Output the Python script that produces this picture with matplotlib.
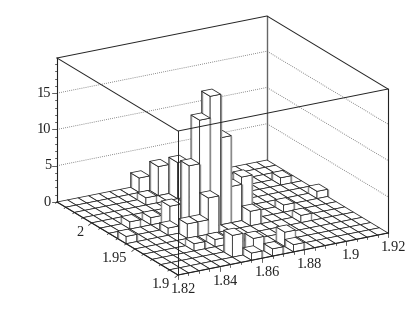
import matplotlib
matplotlib.use('Agg')
import matplotlib.pyplot as plt
from matplotlib.collections import PolyCollection

plt.rcParams['font.family'] = ['Liberation Serif', 'DejaVu Serif']

# counts per bin, rows = y bins (1.90 -> 2.04), columns = x bins (1.82 -> 1.92)
counts = [
    [0, 0, 0, 0, 0, 0, 0, 1, 0, 1, 0, 1, 0, 0, 0, 0, 0, 0, 0, 0],
    [0, 0, 0, 0, 0, 0, 3, 0, 2, 0, 0, 2, 0, 0, 0, 0, 0, 0, 0, 0],
    [0, 0, 0, 0, 0, 0, 0, 0, 0, 0, 0, 0, 0, 0, 0, 0, 0, 0, 0, 0],
    [0, 0, 0, 0, 1, 0, 1, 0, 0, 0, 0, 0, 0, 0, 0, 0, 0, 0, 0, 0],
    [0, 0, 0, 0, 0, 0, 0, 0, 0, 0, 0, 0, 0, 0, 0, 1, 0, 0, 0, 0],
    [0, 0, 0, 0, 0, 2, 2, 5, 0, 0, 0, 2, 0, 0, 0, 0, 0, 0, 0, 0],
    [1, 0, 0, 0, 1, 0, 9, 15, 18, 12, 5, 6, 0, 0, 0, 1, 0, 0, 0, 0],
    [0, 0, 0, 0, 0, 3, 0, 0, 0, 0, 0, 0, 0, 0, 0, 0, 0, 0, 0, 1],
    [0, 0, 1, 0, 1, 0, 0, 0, 0, 0, 0, 0, 0, 0, 0, 0, 0, 0, 0, 0],
    [0, 0, 0, 0, 0, 0, 0, 0, 0, 0, 0, 0, 0, 0, 0, 0, 0, 0, 0, 0],
    [0, 0, 0, 0, 0, 0, 0, 0, 0, 0, 0, 0, 0, 0, 0, 0, 0, 0, 1, 0],
    [0, 0, 0, 0, 0, 0, 1, 0, 0, 5, 0, 0, 0, 0, 0, 0, 0, 0, 0, 0],
    [0, 0, 0, 0, 0, 0, 0, 0, 4, 0, 0, 0, 0, 0, 0, 0, 0, 0, 0, 0],
    [0, 0, 0, 0, 0, 0, 0, 2, 0, 0, 0, 0, 0, 0, 0, 0, 0, 0, 0, 0],
]
x_ticks = [1.82, 1.84, 1.86, 1.88, 1.9, 1.92]
x_labels = ['1.82', '1.84', '1.86', '1.88', '1.9', '1.92']
y_ticks = [1.9, 1.95, 2.0]
y_labels = ['1.9', '1.95', '2']
z_ticks = [0, 5, 10, 15]
z_labels = ['0', '5', '10', '15']

X_MIN, X_MAX, Y_MIN, Y_MAX = 1.82, 1.92, 1.90, 2.04
Z_MAX = 19.85
DX, DY = 0.005, 0.01

# oblique box corners in figure pixels
FRONT = (178, 275)
RIGHT = (388, 233)
LEFT = (57, 202)
BOX_H = 144


def project(x, y, z):
    u = (x - X_MIN) / (X_MAX - X_MIN)
    v = (y - Y_MIN) / (Y_MAX - Y_MIN)
    px = FRONT[0] + u * (RIGHT[0] - FRONT[0]) + v * (LEFT[0] - FRONT[0])
    py = FRONT[1] + u * (RIGHT[1] - FRONT[1]) + v * (LEFT[1] - FRONT[1])
    return px, py - z / Z_MAX * BOX_H


fig = plt.figure(figsize=(4.09, 3.27), dpi=100)
ax = fig.add_axes([0, 0, 1, 1])
ax.set_xlim(0, 409)
ax.set_ylim(327, 0)
ax.axis('off')

LINE = '#222222'
SIDE = '#8a8a8a'
TEXT = '#222222'

# back walls with dotted levels
for z in z_ticks[1:]:
    pts = [project(X_MIN, Y_MAX, z), project(X_MAX, Y_MAX, z), project(X_MAX, Y_MIN, z)]
    ax.plot(*zip(*pts), color='#666666', lw=0.6, ls=(0, (1, 1.5)), zorder=1)
back_pts = [project(X_MAX, Y_MAX, 0), project(X_MAX, Y_MAX, Z_MAX)]
ax.plot(*zip(*back_pts), color='#666666', lw=1.0, zorder=1)
ax.plot(*zip(project(X_MIN, Y_MAX, Z_MAX), project(X_MAX, Y_MAX, Z_MAX), project(X_MAX, Y_MIN, Z_MAX)),
        color=LINE, lw=0.7, zorder=1)

# lego columns, back to front
polys, edge_colors, edge_widths = [], [], []
for j in range(len(counts) - 1, -1, -1):
    for i in range(len(counts[0]) - 1, -1, -1):
        h = counts[j][i]
        x0 = X_MIN + i * DX
        y0 = Y_MIN + j * DY
        x1, y1 = x0 + DX, y0 + DY
        if h > 0:
            polys.append([project(x0, y1, 0), project(x0, y0, 0), project(x0, y0, h), project(x0, y1, h)])
            polys.append([project(x0, y0, 0), project(x1, y0, 0), project(x1, y0, h), project(x0, y0, h)])
            edge_colors += [LINE, LINE]
            edge_widths += [0.55, 0.55]
            # outer verticals read lighter and wider
            polys.append([project(x0, y1, 0), project(x0, y1, h)])
            polys.append([project(x1, y0, 0), project(x1, y0, h)])
            edge_colors += [SIDE, SIDE]
            edge_widths += [1.0, 1.0]
        polys.append([project(x0, y0, h), project(x1, y0, h), project(x1, y1, h), project(x0, y1, h)])
        edge_colors.append(LINE)
        edge_widths.append(0.55)
ax.add_collection(PolyCollection(polys, facecolor='white', edgecolor=edge_colors,
                                 linewidth=edge_widths, zorder=2))

# front edges of the box go over the columns
ax.plot(*zip(project(X_MIN, Y_MAX, Z_MAX), project(X_MIN, Y_MIN, Z_MAX), project(X_MAX, Y_MIN, Z_MAX)),
        color=LINE, lw=0.7, zorder=3)
ax.plot(*zip(project(X_MIN, Y_MIN, 0), project(X_MIN, Y_MIN, Z_MAX)), color=LINE, lw=0.7, zorder=3)
ax.plot(*zip(project(X_MAX, Y_MIN, 0), project(X_MAX, Y_MIN, Z_MAX)), color=LINE, lw=0.8, zorder=3)
ax.plot(*zip(project(X_MIN, Y_MAX, 0), project(X_MIN, Y_MAX, Z_MAX)), color=LINE, lw=0.8, zorder=3)
ax.plot(*zip(project(X_MIN, Y_MAX, 0), project(X_MIN, Y_MIN, 0), project(X_MAX, Y_MIN, 0)),
        color=LINE, lw=0.8, zorder=3)

# z axis ticks and labels
for k in range(20):
    px, py = project(X_MIN, Y_MAX, k)
    size = 5 if k % 5 == 0 else 2.5
    ax.plot([px - size, px], [py, py], color=LINE, lw=0.5, zorder=3)
for z, lab in zip(z_ticks, z_labels):
    px, py = project(X_MIN, Y_MAX, z)
    ax.text(px - 6, py, lab, ha='right', va='center', fontsize=10.4, color=TEXT)

# x axis ticks and labels
for k in range(21):
    px, py = project(X_MIN + k * DX, Y_MIN, 0)
    size = 4 if k % 4 == 0 else 2
    ax.plot([px, px], [py, py + size], color=LINE, lw=0.5, zorder=3)
for x, lab in zip(x_ticks, x_labels):
    px, py = project(x, Y_MIN, 0)
    ax.text(px + 5, py + 14.5, lab, ha='center', va='center', fontsize=10.4, color=TEXT)

# y axis ticks and labels
for k in range(15):
    px, py = project(X_MIN, Y_MIN + k * DY, 0)
    size = 1.0 if k % 5 == 0 else 0.5
    ax.plot([px, px - 3 * size], [py, py + 2.5 * size], color=LINE, lw=0.5, zorder=3)
for y, lab in zip(y_ticks, y_labels):
    px, py = project(X_MIN, y, 0)
    ax.text(px - 8, py + 9.5, lab, ha='right', va='center', fontsize=10.4, color=TEXT)

fig.savefig('out.png', dpi=100)
